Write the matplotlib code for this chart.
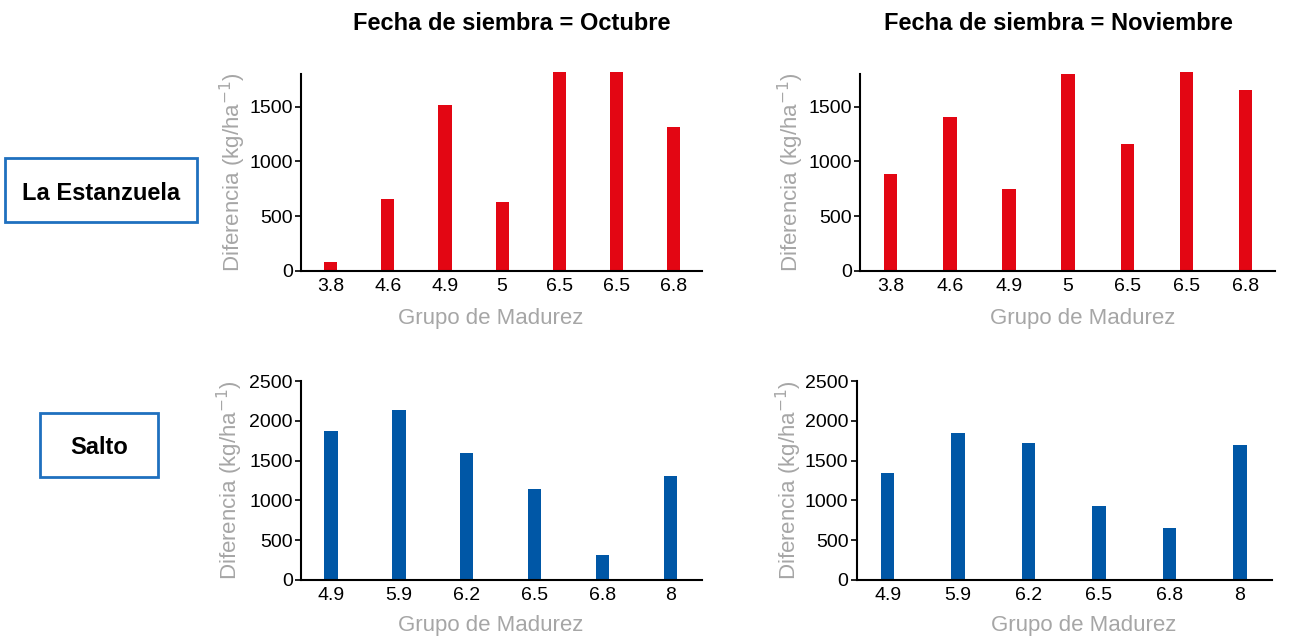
import matplotlib.pyplot as plt
import matplotlib.patches as patches

# datos
gm_le = ["3.8", "4.6", "4.9", "5", "6.5", "6.5", "6.8"]
le_oct = [80, 656, 1516, 628, 1820, 1820, 1315]
le_nov = [885, 1406, 747, 1800, 1159, 1820, 1653]

gm_sa = ["4.9", "5.9", "6.2", "6.5", "6.8", "8"]
sa_oct = [1874, 2133, 1591, 1148, 320, 1308]
sa_nov = [1345, 1850, 1727, 926, 655, 1690]

titles = ["Fecha de siembra = Octubre", "Fecha de siembra = Noviembre"]
sites = ["La Estanzuela", "Salto"]

red = "#E30613"
blue = "#0057A6"
grey = "#A6A6A6"
labfont = ["Liberation Sans", "DejaVu Sans"]

W, H = 1300, 640
fig = plt.figure(figsize=(13, 6.4), dpi=100)


def px_axes(x0, x1, ytop, ybot):
    return fig.add_axes([x0 / W, (H - ybot) / H, (x1 - x0) / W, (ybot - ytop) / H])


def style(ax, ymax, ticks, cats, xlim, lab_xy, ylab_x):
    ax.set_ylim(0, ymax)
    ax.set_xlim(*xlim)
    ax.set_yticks(ticks)
    ax.set_xticks(range(len(cats)))
    ax.set_xticklabels(cats)
    for s in ["top", "right"]:
        ax.spines[s].set_visible(False)
    for s in ["left", "bottom"]:
        ax.spines[s].set_linewidth(1.5)
    ax.tick_params(axis="x", length=0, pad=5)
    ax.tick_params(axis="y", length=4, width=1.2, pad=2)
    for t in ax.get_xticklabels() + ax.get_yticklabels():
        t.set_fontfamily(labfont)
        t.set_fontsize(14)
    ax.set_xlabel("Grupo de Madurez", color=grey, fontsize=16, family=labfont)
    ax.set_ylabel("Diferencia (kg/ha$^{-1}$)", color=grey, fontsize=16, family=labfont)
    ax.xaxis.set_label_coords(*lab_xy)
    ax.yaxis.set_label_coords(ylab_x, 0.5)


ax1 = px_axes(301, 702, 74, 270.7)
ax1.bar(range(len(gm_le)), le_oct, width=0.23, color=red, clip_on=False)
style(ax1, 1800, [0, 500, 1000, 1500], gm_le, (-0.52, 6.5), (0.473, -0.19), -0.132)

ax2 = px_axes(860, 1275, 74, 270.7)
ax2.bar(range(len(gm_le)), le_nov, width=0.226, color=red, clip_on=False)
style(ax2, 1800, [0, 500, 1000, 1500], gm_le, (-0.52, 6.5), (0.537, -0.19), -0.130)

ax3 = px_axes(301, 702, 381, 580)
ax3.bar(range(len(gm_sa)), sa_oct, width=0.196, color=blue)
style(ax3, 2500, [0, 500, 1000, 1500, 2000, 2500], gm_sa, (-0.44, 5.46), (0.473, -0.176), -0.14)

ax4 = px_axes(856.7, 1272.3, 381, 580)
ax4.bar(range(len(gm_sa)), sa_nov, width=0.19, color=blue)
style(ax4, 2500, [0, 500, 1000, 1500, 2000, 2500], gm_sa, (-0.44, 5.46), (0.545, -0.176), -0.127)

fig.text(512 / W, 1 - 23 / H, titles[0], ha="center", va="center",
         fontsize=17, fontweight="bold", family=labfont)
fig.text(1058 / W, 1 - 23 / H, titles[1], ha="center", va="center",
         fontsize=17, fontweight="bold", family=labfont)

# cajas de sitio
for (x0, x1, y0, y1), name in zip([(5, 197, 158, 222), (40, 158, 413, 477)], sites):
    fig.patches.append(patches.Rectangle((x0 / W, 1 - y1 / H), (x1 - x0) / W, (y1 - y0) / H,
                                         transform=fig.transFigure, fill=False,
                                         edgecolor="#1F70BF", linewidth=2))
    fig.text((x0 + x1) / 2 / W, 1 - ((y0 + y1) / 2 + 3) / H, name, ha="center", va="center",
             fontsize=17, fontweight="bold", family=labfont)

fig.savefig("out.png", dpi=100)
